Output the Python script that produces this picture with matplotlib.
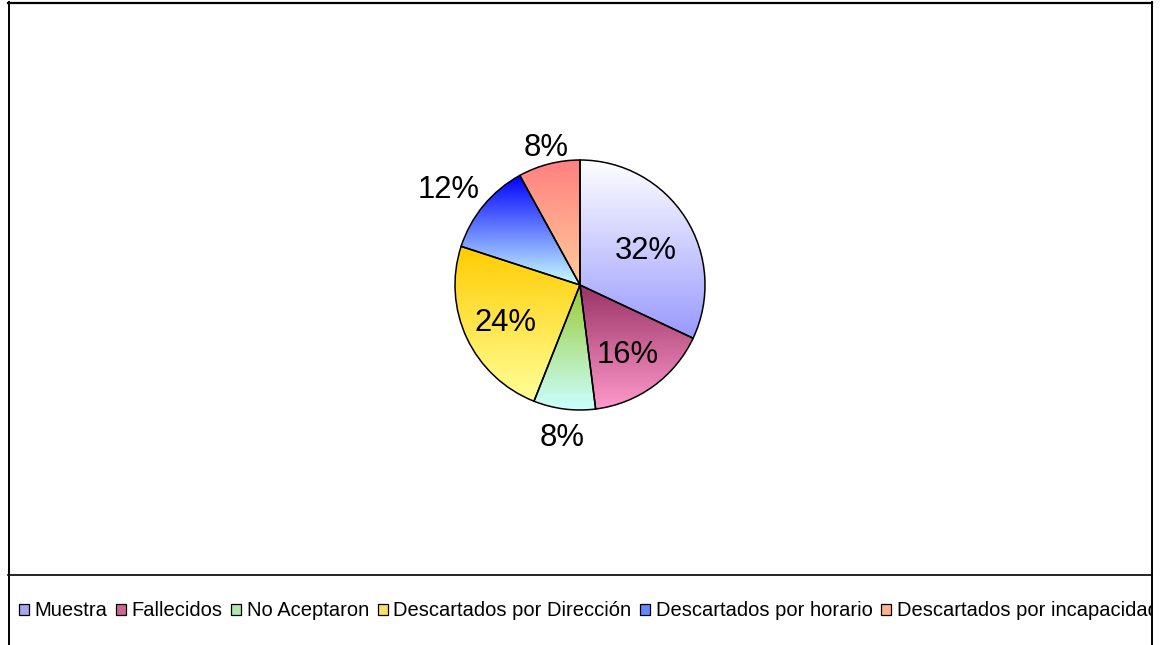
import numpy as np
import matplotlib
matplotlib.use("Agg")
import matplotlib.pyplot as plt
from matplotlib.colors import LinearSegmentedColormap
from matplotlib.patches import Patch, Rectangle
from matplotlib.lines import Line2D

plt.rcParams['font.family'] = ['Liberation Sans', 'DejaVu Sans']

categories = ["Muestra", "Fallecidos", "No Aceptaron", "Descartados por Dirección",
              "Descartados por horario", "Descartados por incapacidad"]
values = [32, 16, 8, 24, 12, 8]
top_colors = ["#FFFFFF", "#993366", "#99CC33", "#FFCC00", "#0000FF", "#FF8080"]
bottom_colors = ["#9999FF", "#FF99CC", "#CCFFFF", "#FFFF99", "#CCFFFF", "#FFCC99"]
legend_colors = ["#A6A6F4", "#CC6699", "#B3E6B3", "#FFE066", "#6688FF", "#FFB38C"]
label_radius = [0.595, 0.677, 1.23, 0.671, 1.30, 1.13]
label_angle_offset = [-4.9, -1.4, 0.5, 1.5, 3.8, -0.5]

W, H = 1160, 645
fig = plt.figure(figsize=(W / 100, H / 100), dpi=100)

# pie axes: centre (580, 285) px, radius 125 px
R = 125
lim = 1.4
axw = 2 * lim * R
ax = fig.add_axes([(580 - axw / 2) / W, (H - 285 - axw / 2) / H, axw / W, axw / H])

wedges, texts, autotexts = ax.pie(values, startangle=90, counterclock=False,
                                  autopct='%1.0f%%', radius=1,
                                  wedgeprops=dict(facecolor='none', edgecolor='black',
                                                  linewidth=1.1, zorder=3),
                                  textprops=dict(fontsize=22.3, color='black'))
ax.set_aspect('auto')
ax.axis('off')

grad = np.linspace(0, 1, 256).reshape(-1, 1)
for i, w in enumerate(wedges):
    t = np.radians(np.linspace(w.theta1, w.theta2, 300))
    xs = np.concatenate([[w.center[0]], w.center[0] + w.r * np.cos(t)])
    ys = np.concatenate([[w.center[1]], w.center[1] + w.r * np.sin(t)])
    cmap = LinearSegmentedColormap.from_list(f"g{i}", [top_colors[i], bottom_colors[i]])
    im = ax.imshow(grad, cmap=cmap, extent=(xs.min(), xs.max(), ys.min(), ys.max()),
                   origin='upper', aspect='auto', zorder=2, interpolation='bilinear')
    im.set_clip_path(w)
    mid = np.radians((w.theta1 + w.theta2) / 2 + label_angle_offset[i])
    autotexts[i].set_position((label_radius[i] * np.cos(mid), label_radius[i] * np.sin(mid)))
    autotexts[i].set_ha('center')
    autotexts[i].set_va('center')
    autotexts[i].set_zorder(5)
ax.set_xlim(-lim, lim)
ax.set_ylim(-lim, lim)

# legend
handles = [Patch(facecolor=c, edgecolor='black', linewidth=0.9) for c in legend_colors]
leg = fig.legend(handles, categories, loc='center left',
                 bbox_to_anchor=(19 / W, (H - 611) / H), ncol=6, frameon=False,
                 fontsize=14.5, handlelength=0.5, handleheight=0.5,
                 handletextpad=0.28, columnspacing=0.42, borderpad=0, borderaxespad=0)

# cover overflow at the right edge (the reference legend is clipped there)
fig.add_artist(Rectangle((1152 / W, 0), 10 / W, (H - 574) / H, transform=fig.transFigure,
                         facecolor='white', edgecolor='none', zorder=10))

def fline(x0, y0, x1, y1, lw=1.3, color='black'):
    fig.add_artist(Line2D([x0 / W, x1 / W], [(H - y0) / H, (H - y1) / H],
                          transform=fig.transFigure, color=color, linewidth=lw, zorder=11))

fline(8, 2.5, 1152, 2.5, lw=1.6)
fline(8.5, 2, 8.5, 645, lw=1.4)
fline(1151.5, 2, 1151.5, 645, lw=1.4)
fline(8, 574.5, 1152, 574.5, lw=1.2)

fig.savefig("out.png", dpi=100, facecolor='white')
